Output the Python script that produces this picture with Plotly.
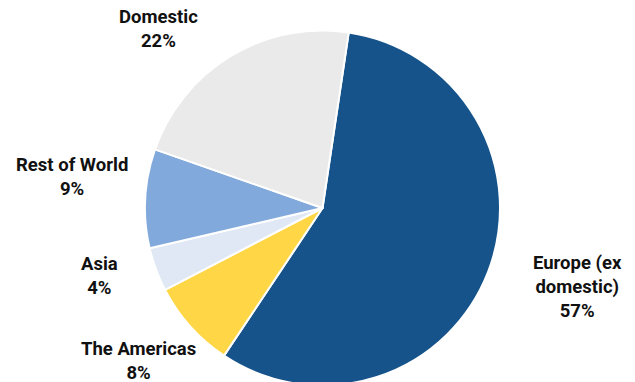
import plotly.graph_objects as go

# Revenue split by region (share of total, %)
regions = ["Europe (ex domestic)", "The Americas", "Asia", "Rest of World", "Domestic"]
label_lines = ["Europe (ex<br>domestic)", "The Americas", "Asia", "Rest of World", "Domestic"]
shares = [57, 8, 4, 9, 22]
colors = ["#15538A", "#FFD645", "#E1E8F5", "#82A9DB", "#EAEAEA"]

W, H = 635, 390  # canvas a bit taller than the view so the pie runs off the bottom edge

# Pie geometry in pixels (center and radius)
cx, cy, r = 322.5, 208.0, 177.5

# Label block centers in pixels, same order as regions
label_pos = [(577.5, 287.0), (138.5, 360.5), (99.5, 275.5), (71.5, 177.0), (158.0, 29.5)]

fig = go.Figure(
    go.Pie(
        labels=regions,
        values=shares,
        sort=False,
        direction="clockwise",
        rotation=8.5,
        marker=dict(colors=colors, line=dict(color="#FFFFFF", width=2)),
        textinfo="none",
        hoverinfo="label+percent",
        showlegend=False,
        domain=dict(
            x=[(cx - r) / W, (cx + r) / W],
            y=[(H - (cy + r)) / H, (H - (cy - r)) / H],
        ),
    )
)

for lines, val, (px, py) in zip(label_lines, shares, label_pos):
    fig.add_annotation(
        text=f"<b>{lines}<br>{val}%</b>",
        x=px / W,
        y=1 - py / H,
        xref="paper",
        yref="paper",
        xanchor="center",
        yanchor="middle",
        showarrow=False,
        align="center",
        borderpad=0,
        font=dict(family="Roboto", size=18.5, color="#111111"),
    )

fig.update_layout(
    width=W,
    height=H,
    margin=dict(l=0, r=0, t=0, b=0),
    paper_bgcolor="#FFFFFF",
    plot_bgcolor="#FFFFFF",
)

fig.write_html(
    "out.html",
    post_script="document.body.style.overflow='hidden';document.documentElement.style.overflow='hidden';",
)
